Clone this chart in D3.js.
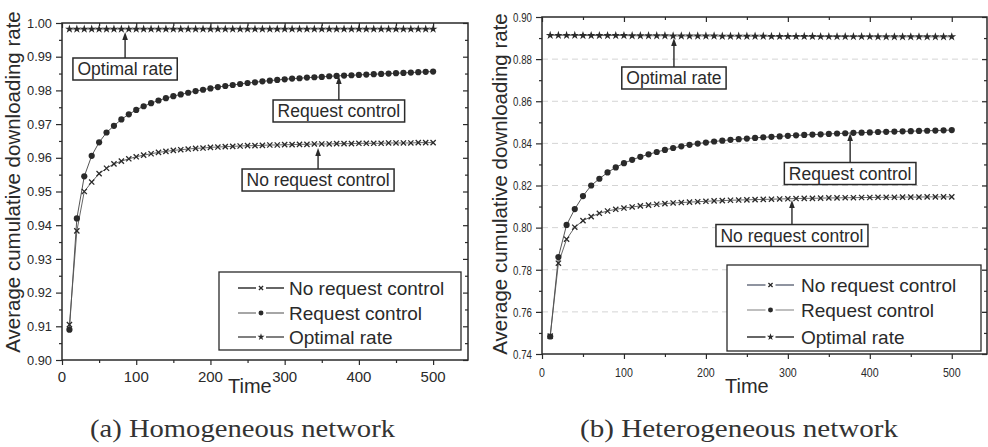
<!DOCTYPE html>
<html>
<head>
<meta charset="utf-8">
<script src="https://cdn.jsdelivr.net/npm/d3@7"></script>
<style>
  body { margin: 0; background: #fff; }
  svg { display: block; font-family: Arial, "Liberation Sans", sans-serif; }
</style>
</head>
<body>
<svg id="chart" width="988" height="447"></svg>
<script>
// time axis sample points
const times = [10,20,30,40,50,60,70,80,90,100,110,120,130,140,150,160,170,180,190,200,
  210,220,230,240,250,260,270,280,290,300,310,320,330,340,350,360,370,380,390,400,
  410,420,430,440,450,460,470,480,490,500];

// (a) homogeneous network
const homoNoCtrl = [.9105,.9383,.9500,.9528,.9553,.9569,.9582,.9590,.9597,.9603,
  .9608,.9612,.9616,.9619,.9622,.9624,.9626,.9628,.9629,.9631,
  .9632,.9633,.9634,.9635,.9636,.9636,.9637,.9638,.9638,.9639,
  .9639,.9640,.9640,.9641,.9641,.9641,.9642,.9642,.9642,.9643,
  .9643,.9643,.9643,.9644,.9644,.9644,.9644,.9645,.9645,.9645];
const homoCtrl = [.9090,.9420,.9545,.9606,.9646,.9675,.9695,.9714,.9729,.9742,
  .9753,.9762,.9770,.9777,.9783,.9788,.9793,.9798,.9802,.9806,
  .9810,.9813,.9816,.9819,.9822,.9824,.9827,.9829,.9831,.9833,
  .9835,.9836,.9838,.9839,.9840,.9842,.9843,.9844,.9845,.9846,
  .9847,.9848,.9849,.9850,.9851,.9852,.9853,.9854,.9855,.9856];
const homoOpt = [.9982,.9982,.9982,.9982,.9982,.9982,.9982,.9982,.9982,.9982,
  .9982,.9982,.9982,.9982,.9982,.9982,.9982,.9982,.9982,.9982,
  .9982,.9982,.9982,.9982,.9982,.9982,.9982,.9982,.9982,.9982,
  .9982,.9982,.9982,.9982,.9982,.9982,.9982,.9982,.9982,.9982,
  .9982,.9982,.9982,.9982,.9982,.9982,.9982,.9982,.9982,.9982];

// (b) heterogeneous network
const hetNoCtrl = [.7485,.7831,.7945,.8002,.8033,.8052,.8068,.8079,.8087,.8093,
  .8098,.8103,.8107,.8111,.8114,.8117,.8119,.8121,.8123,.8125,
  .8127,.8128,.8130,.8131,.8132,.8133,.8134,.8135,.8136,.8137,
  .8138,.8139,.8139,.8140,.8141,.8141,.8142,.8142,.8143,.8143,
  .8144,.8144,.8144,.8145,.8145,.8145,.8146,.8146,.8146,.8146];
const hetCtrl = [.7483,.7860,.8013,.8088,.8150,.8200,.8232,.8262,.8286,.8306,
  .8322,.8336,.8348,.8359,.8369,.8378,.8386,.8393,.8399,.8404,
  .8409,.8413,.8417,.8420,.8423,.8426,.8429,.8431,.8433,.8436,
  .8438,.8440,.8442,.8443,.8445,.8447,.8448,.8450,.8451,.8452,
  .8454,.8455,.8456,.8457,.8458,.8459,.8460,.8461,.8462,.8463];
const hetOpt = [.8913,.8913,.8913,.8913,.8912,.8912,.8912,.8912,.8912,.8912,
  .8911,.8911,.8911,.8911,.8911,.8910,.8910,.8910,.8910,.8910,
  .8910,.8909,.8909,.8909,.8909,.8909,.8909,.8908,.8908,.8908,
  .8908,.8908,.8908,.8907,.8907,.8907,.8907,.8907,.8907,.8907,
  .8906,.8906,.8906,.8906,.8906,.8906,.8906,.8906,.8906,.8906];

const seriesNames = ["No request control", "Request control", "Optimal rate"];
const captions = ["(a) Homogeneous network", "(b) Heterogeneous network"];
const xTickLabels = [0, 100, 200, 300, 400, 500];
const homoYTicks = [0.90,0.91,0.92,0.93,0.94,0.95,0.96,0.97,0.98,0.99,1.00];
const hetYTicks = [0.74,0.76,0.78,0.80,0.82,0.84,0.86,0.88,0.90];

const svg = d3.select("#chart");
const ink = "#2a2a2a";

// marker shapes: cross, dot, star
function marker(g, kind, x, y, s) {
  if (kind === 0) {
    g.append("path")
      .attr("d", `M${x-2.6*s},${y-2.6*s}L${x+2.6*s},${y+2.6*s}M${x-2.6*s},${y+2.6*s}L${x+2.6*s},${y-2.6*s}`)
      .attr("stroke", ink).attr("stroke-width", 1.3).attr("fill", "none");
  } else if (kind === 1) {
    g.append("circle").attr("cx", x).attr("cy", y).attr("r", 3.1 * s).attr("fill", ink);
  } else {
    g.append("path").attr("transform", `translate(${x},${y})`)
      .attr("d", d3.symbol(d3.symbolStar, 24 * s * s)()).attr("fill", ink);
  }
}

function label(g, x, y, str, size, anchor, sx) {
  return g.append("text")
    .attr("transform", `translate(${x},${y}) scale(${sx || 1},1)`)
    .attr("text-anchor", anchor || "start")
    .attr("font-size", size)
    .attr("fill", ink)
    .text(str);
}

function drawPanel(p) {
  const g = svg.append("g");
  const x = d3.scaleLinear().domain([0, p.xMax]).range([p.left, p.right]);
  const y = d3.scaleLinear().domain(p.yDomain).range([p.bottom, p.top]);

  // faint grid (b only)
  if (p.grid) {
    g.selectAll("line.grid").data(p.yTicks.slice(1, -1)).enter().append("line")
      .attr("x1", p.left).attr("x2", p.right)
      .attr("y1", d => y(d)).attr("y2", d => y(d))
      .attr("stroke", "#d4d4d4").attr("stroke-dasharray", "6,4").attr("stroke-width", 1);
  }

  const xMinor = d3.range(50, p.xMax, 100);
  const yMinor = d3.range(p.yDomain[0] + p.yMinor, p.yDomain[1], p.yMinor * 2);

  // bottom / left (outward)
  g.append("g").attr("transform", `translate(0,${p.bottom})`)
    .call(d3.axisBottom(x).tickValues(xTickLabels).tickSize(5).tickFormat(""));
  g.append("g").attr("transform", `translate(0,${p.bottom})`)
    .call(d3.axisBottom(x).tickValues(xMinor).tickSize(3).tickFormat(""));
  g.append("g").attr("transform", `translate(${p.left},0)`)
    .call(d3.axisLeft(y).tickValues(p.yTicks).tickSize(6).tickFormat(""));
  g.append("g").attr("transform", `translate(${p.left},0)`)
    .call(d3.axisLeft(y).tickValues(yMinor).tickSize(3).tickFormat(""));
  // top / right (inward)
  g.append("g").attr("transform", `translate(0,${p.top})`)
    .call(d3.axisTop(x).tickValues(xTickLabels).tickSize(-5).tickFormat(""));
  g.append("g").attr("transform", `translate(0,${p.top})`)
    .call(d3.axisTop(x).tickValues(xMinor).tickSize(-3).tickFormat(""));
  g.append("g").attr("transform", `translate(${p.right},0)`)
    .call(d3.axisRight(y).tickValues(p.yTicks).tickSize(-5).tickFormat(""));
  g.append("g").attr("transform", `translate(${p.right},0)`)
    .call(d3.axisRight(y).tickValues(yMinor).tickSize(-3).tickFormat(""));
  g.selectAll(".domain").remove();
  g.selectAll(".tick line").attr("stroke", ink).attr("stroke-width", 1.2);

  g.append("rect").attr("x", p.left).attr("y", p.top)
    .attr("width", p.right - p.left).attr("height", p.bottom - p.top)
    .attr("fill", "none").attr("stroke", ink).attr("stroke-width", 1.5);

  // tick labels
  xTickLabels.forEach(t => label(g, x(t), p.bottom + p.xLabDy, t, p.xLabSize, "middle", p.xLabSx));
  p.yTicks.forEach(v => label(g, p.left - 10, y(v) + p.yLabSize * 0.36, v.toFixed(2), p.yLabSize, "end", p.yLabSx));

  // axis titles
  label(g, p.timeX, 393, "Time", 20, "start");
  g.append("text")
    .attr("transform", `translate(${p.yTitleX},${p.yTitleY}) rotate(-90)`)
    .attr("text-anchor", "middle").attr("font-size", 20.5).attr("fill", ink)
    .text("Average cumulative downloading rate");

  // series
  const line = d3.line().x((d, i) => x(times[i])).y(d => y(d));
  p.series.forEach((vals, k) => {
    g.append("path").attr("d", line(vals)).attr("fill", "none")
      .attr("stroke", k === 1 ? "#555" : "#666").attr("stroke-width", 1);
  });
  p.series.forEach((vals, k) => {
    const mg = g.append("g");
    vals.forEach((v, i) => marker(mg, k, x(times[i]), y(v), 1));
  });

  // annotations
  p.notes.forEach(n => {
    const cx = x(n.t);
    const cy = y(n.boxV);
    const ng = g.append("g");
    const box = ng.append("rect");
    const t = label(ng, cx, cy + 6.3, seriesNames[n.s], 17.5, "middle");
    const bb = t.node().getBBox();
    const h = 22, w = bb.width + 9;
    box.attr("x", cx - w / 2).attr("y", cy - h / 2).attr("width", w).attr("height", h)
      .attr("fill", "#fff").attr("stroke", ink).attr("stroke-width", 1.5);
    const tip = y(n.tipV);
    ng.append("line").attr("x1", cx).attr("x2", cx)
      .attr("y1", cy - h / 2).attr("y2", tip + 6)
      .attr("stroke", ink).attr("stroke-width", 1.4);
    ng.append("path").attr("d", `M${cx},${tip}L${cx - 2.8},${tip + 8}L${cx + 2.8},${tip + 8}Z`).attr("fill", ink);
  });

  // legend
  const L = p.legend;
  g.append("rect").attr("x", L.x0).attr("y", L.y0)
    .attr("width", L.x1 - L.x0).attr("height", L.y1 - L.y0)
    .attr("fill", "#fff").attr("stroke", ink).attr("stroke-width", 1.3);
  seriesNames.forEach((name, k) => {
    const ry = L.rows[k];
    g.append("line").attr("x1", L.lx0).attr("x2", L.lx1).attr("y1", ry).attr("y2", ry)
      .attr("stroke", L.colors[k]).attr("stroke-width", 1.6);
    g.append("rect").attr("x", (L.lx0 + L.lx1) / 2 - 5).attr("y", ry - 4).attr("width", 10).attr("height", 8).attr("fill", "#fff");
    marker(g, k, (L.lx0 + L.lx1) / 2, ry, 0.8);
    label(g, L.tx, ry + 6.8, name, 19, "start");
  });

  // caption
  svg.append("text").attr("x", p.capX).attr("y", 437)
    .attr("font-family", "'Liberation Serif', 'DejaVu Serif', serif")
    .attr("font-size", 25).attr("fill", "#333")
    .attr("textLength", p.capLen).attr("lengthAdjust", "spacingAndGlyphs")
    .text(p.caption);
}

drawPanel({
  left: 62, right: 468, top: 23, bottom: 360, xMax: 547,
  yDomain: [0.90, 1.00], yTicks: homoYTicks, yMinor: 0.005, grid: false,
  xLabDy: 22, xLabSize: 15, xLabSx: 1, yLabSize: 12.8, yLabSx: 1,
  timeX: 228, yTitleX: 20, yTitleY: 182,
  series: [homoNoCtrl, homoCtrl, homoOpt],
  notes: [
    { s: 2, t: 85, boxV: 0.98635, tipV: 0.99733 },
    { s: 1, t: 373, boxV: 0.97389, tipV: 0.98427 },
    { s: 0, t: 345, boxV: 0.95341, tipV: 0.96291 }
  ],
  legend: { x0: 219, x1: 461, y0: 272, y1: 350, rows: [288, 313, 337],
    lx0: 238, lx1: 284, tx: 289, colors: ["#333", "#888", "#555"] },
  caption: captions[0], capX: 90, capLen: 305
});

drawPanel({
  left: 542, right: 987, top: 17, bottom: 354, xMax: 543,
  yDomain: [0.74, 0.90], yTicks: hetYTicks, yMinor: 0.01, grid: true,
  xLabDy: 23, xLabSize: 12.5, xLabSx: 0.85, yLabSize: 13.5, yLabSx: 0.72,
  timeX: 725, yTitleX: 507, yTitleY: 184,
  series: [hetNoCtrl, hetCtrl, hetOpt],
  notes: [
    { s: 2, t: 161, boxV: 0.87104, tipV: 0.89003 },
    { s: 1, t: 376, boxV: 0.82569, tipV: 0.84492 },
    { s: 0, t: 305, boxV: 0.79625, tipV: 0.81311 }
  ],
  legend: { x0: 727, x1: 981, y0: 265, y1: 351, rows: [285, 310, 337],
    lx0: 747, lx1: 794, tx: 801, colors: ["#6a7080", "#aaa", "#333"] },
  caption: captions[1], capX: 580, capLen: 318
});
</script>
</body>
</html>
